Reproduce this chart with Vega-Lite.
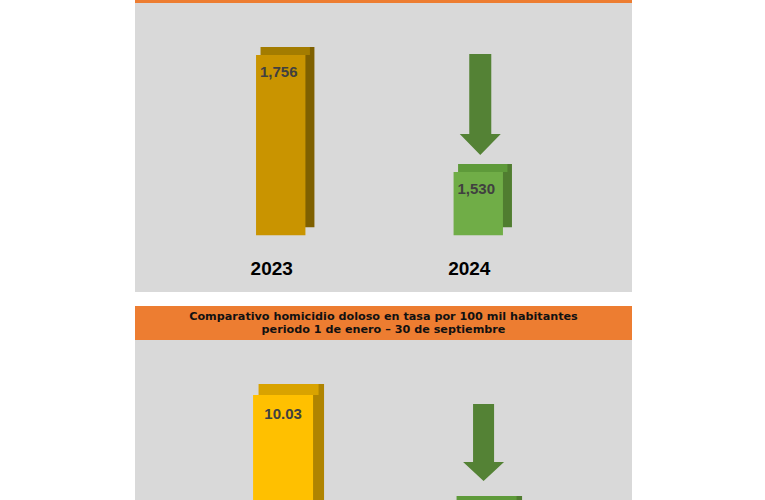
{
  "$schema": "https://vega.github.io/schema/vega-lite/v6.json",
  "background": "white",
  "padding": {"left": 135, "top": 0, "right": 133, "bottom": 0},
  "config": {
    "view": {"stroke": null},
    "font": "Liberation Sans",
    "text": {"font": "Liberation Sans"}
  },
  "datasets": {
    "conteo": [
      {"anio": "2023", "valor": 1756},
      {"anio": "2024", "valor": 1530}
    ],
    "tasa": [
      {"anio": "2023", "valor": 10.03},
      {"anio": "2024", "valor": 8.70}
    ]
  },
  "spacing": 14,
  "vconcat": [
    {
      "width": 497,
      "height": 292,
      "view": {"fill": "#D9D9D9", "stroke": null},
      "data": {"name": "conteo"},
      "layer": [
        {
          "mark": {"type": "bar", "xOffset": 9, "yOffset": -8, "y2Offset": -8, "clip": true},
          "encoding": {
            "x": {"field": "anio", "type": "nominal", "axis": null, "scale": {"paddingInner": 0.75, "paddingOuter": 0.633, "align": 0.484}},
            "y": {"field": "valor", "type": "quantitative", "axis": null, "scale": {"domain": [1298.2, 1862.2], "nice": false, "zero": false}},
            "y2": {"datum": 1408},
            "color": {"condition": {"test": "datum.anio == '2023'", "value": "#7F6000"}, "value": "#507D30"}
          }
        },
        {
          "mark": {"type": "bar", "xOffset": 4.5, "yOffset": -8, "clip": true},
          "encoding": {
            "x": {"field": "anio", "type": "nominal"},
            "y": {"field": "valor", "type": "quantitative"},
            "y2": {"field": "valor"},
            "color": {"condition": {"test": "datum.anio == '2023'", "value": "#A37C00"}, "value": "#5E9A3A"}
          }
        },
        {
          "mark": {"type": "bar", "clip": true},
          "encoding": {
            "x": {"field": "anio", "type": "nominal"},
            "y": {"field": "valor", "type": "quantitative"},
            "y2": {"datum": 1408},
            "color": {"condition": {"test": "datum.anio == '2023'", "value": "#C99400"}, "value": "#70AD47"}
          }
        },
        {
          "mark": {"type": "text", "dy": 17, "dx": -2, "fontSize": 15, "fontWeight": "bold", "color": "#404040", "baseline": "middle", "clip": true},
          "encoding": {
            "x": {"field": "anio", "type": "nominal"},
            "y": {"field": "valor", "type": "quantitative"},
            "text": {"field": "valor", "type": "quantitative", "format": ","}
          }
        },
        {
          "transform": [{"filter": "datum.anio == '2024'"}],
          "mark": {
            "type": "point",
            "filled": true,
            "opacity": 1,
            "color": "#548235",
            "strokeWidth": 0,
            "xOffset": 2,
            "shape": "M-0.218,-1L0.218,-1L0.218,0.584L0.406,0.584L0,1L-0.406,0.584L-0.218,0.584Z",
            "size": 10201,
            "clip": true
          },
          "encoding": {
            "x": {"field": "anio", "type": "nominal"},
            "y": {"datum": 1660.4}
          }
        },
        {
          "mark": {"type": "text", "dx": -9, "fontSize": 19, "fontWeight": "bold", "color": "#000000", "baseline": "middle", "clip": true},
          "encoding": {
            "x": {"field": "anio", "type": "nominal"},
            "y": {"datum": 1342.6},
            "text": {"field": "anio", "type": "nominal"}
          }
        },
        {
          "mark": {"type": "rule", "color": "#ED7D31", "strokeWidth": 6, "clip": true},
          "encoding": {"y": {"datum": 1862.2}}
        }
      ]
    },
    {
      "spacing": 0,
      "vconcat": [
        {
          "width": 497,
          "height": 34,
          "view": {"fill": "#ED7D31", "stroke": null},
          "data": {"values": [{}]},
          "mark": {"type": "text", "font": "DejaVu Sans", "fontSize": 11.2, "fontWeight": "bold", "color": "#111111", "baseline": "middle", "lineHeight": 13, "dy": -6, "clip": true},
          "encoding": {
            "text": {"value": ["Comparativo  homicidio doloso en tasa por 100 mil habitantes", "periodo 1 de enero – 30 de septiembre"]}
          }
        },
        {
          "width": 497,
          "height": 160,
          "view": {"fill": "#D9D9D9", "stroke": null},
          "data": {"name": "tasa"},
          "layer": [
            {
              "mark": {"type": "bar", "xOffset": 11, "yOffset": -11, "y2Offset": -11, "clip": true},
              "encoding": {
                "x": {"field": "anio", "type": "nominal", "axis": null, "scale": {"paddingInner": 0.697, "paddingOuter": 0.6035, "align": 0.494}},
                "y": {"field": "valor", "type": "quantitative", "axis": null, "scale": {"domain": [8.783, 10.683], "nice": false, "zero": false}},
                "y2": {"datum": 8.0},
                "color": {"condition": {"test": "datum.anio == '2023'", "value": "#B08400"}, "value": "#507D30"}
              }
            },
            {
              "mark": {"type": "bar", "xOffset": 5.5, "yOffset": -11, "clip": true},
              "encoding": {
                "x": {"field": "anio", "type": "nominal"},
                "y": {"field": "valor", "type": "quantitative"},
                "y2": {"field": "valor"},
                "color": {"condition": {"test": "datum.anio == '2023'", "value": "#D9A300"}, "value": "#5E9A3A"}
              }
            },
            {
              "mark": {"type": "bar", "clip": true},
              "encoding": {
                "x": {"field": "anio", "type": "nominal"},
                "y": {"field": "valor", "type": "quantitative"},
                "y2": {"datum": 8.0},
                "color": {"condition": {"test": "datum.anio == '2023'", "value": "#FFC000"}, "value": "#70AD47"}
              }
            },
            {
              "transform": [{"filter": "datum.anio == '2023'"}],
              "mark": {"type": "text", "dy": 19, "fontSize": 15, "fontWeight": "bold", "color": "#404040", "baseline": "middle", "clip": true},
              "encoding": {
                "x": {"field": "anio", "type": "nominal"},
                "y": {"field": "valor", "type": "quantitative"},
                "text": {"field": "valor", "type": "quantitative", "format": ".2f"}
              }
            },
            {
              "transform": [{"filter": "datum.anio == '2024'"}],
              "mark": {
                "type": "point",
                "filled": true,
                "opacity": 1,
                "color": "#548235",
                "strokeWidth": 0,
                "xOffset": 2.5,
                "shape": "M-0.273,-1L0.273,-1L0.273,0.506L0.532,0.506L0,1L-0.532,0.506L-0.273,0.506Z",
                "size": 5929,
                "clip": true
              },
              "encoding": {
                "x": {"field": "anio", "type": "nominal"},
                "y": {"datum": 9.466}
              }
            }
          ]
        }
      ]
    }
  ]
}
